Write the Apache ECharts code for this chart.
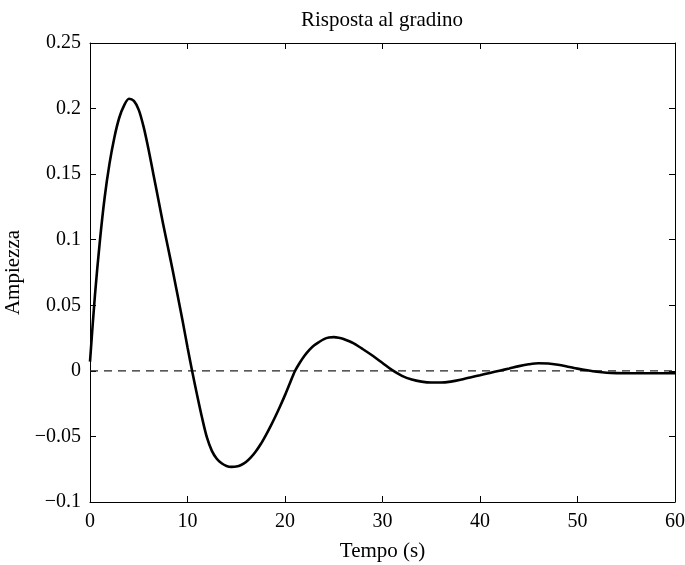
<!DOCTYPE html>
<html>
<head>
<meta charset="utf-8">
<script src="https://cdn.jsdelivr.net/npm/echarts@6/dist/echarts.min.js"></script>
<style>
  html, body { margin: 0; padding: 0; background: #fff; }
  #chart { width: 685px; height: 565px; }
</style>
</head>
<body>
<div id="chart"></div>
<script>
// step response
const tempo = [0, 0.5, 1, 1.5, 2, 2.5, 3, 3.5, 4, 4.5, 5, 5.5, 6, 6.5, 7, 7.5, 8, 8.5, 9, 9.5,
  10, 10.5, 11, 11.5, 12, 12.5, 13, 13.5, 14, 14.5, 15, 15.5, 16, 16.5, 17, 17.5, 18, 18.5, 19, 19.5,
  20, 20.5, 21, 21.5, 22, 22.5, 23, 23.5, 24, 24.5, 25, 25.5, 26, 27, 28, 29, 30, 31, 32, 33, 34, 35, 36, 37, 38, 39,
  40, 41, 42, 43, 44, 45, 46, 47, 48, 49, 50, 51, 52, 53, 54, 55, 56, 58, 60]
const ampiezza = [0.007, 0.057, 0.098, 0.132, 0.158, 0.178, 0.193, 0.2025, 0.2075, 0.2058, 0.199, 0.186, 0.169, 0.150, 0.131, 0.112, 0.094, 0.076, 0.057, 0.038,
  0.018, -0.001, -0.019, -0.036, -0.051, -0.061, -0.067, -0.0705, -0.0725, -0.0732, -0.073, -0.0718, -0.0695, -0.066, -0.0615, -0.056, -0.0495, -0.0425, -0.035, -0.027,
  -0.0185, -0.0095, -0.0005, 0.006, 0.0115, 0.016, 0.0195, 0.022, 0.0242, 0.0254, 0.0257, 0.0253, 0.0243, 0.0212, 0.0165, 0.0115, 0.006, 0.0005, -0.0038, -0.0066, -0.0082, -0.0089, -0.0089, -0.0082, -0.0068, -0.005,
  -0.0033, -0.0016, 0.0001, 0.0018, 0.0036, 0.005, 0.0058, 0.0056, 0.0046, 0.0032, 0.0017, 0.0004, -0.0007, -0.0014, -0.0017, -0.0018, -0.0018, -0.0018, -0.0018]
const riferimento = [[0, 0], [60, 0]]

const font = 'Liberation Serif'
const fmt = v => String(+v.toFixed(2)).replace('-', '\u2212')

const chart = echarts.init(document.getElementById('chart'))

const axisCommon = {
  axisLine: { show: true, onZero: false, lineStyle: { color: '#000', width: 1 } },
  axisTick: { show: true, inside: true, length: 6, lineStyle: { color: '#000' } },
  splitLine: { show: false }
}

chart.setOption({
  animation: false,
  title: {
    text: 'Risposta al gradino',
    left: 377, top: 5, textAlign: 'center',
    textStyle: { fontFamily: font, fontSize: 21, fontWeight: 'normal', color: '#000' }
  },
  grid: { left: 90, right: 10, top: 43, bottom: 63, outerBoundsMode: 'none', containLabel: false },
  xAxis: [{
    type: 'value', min: 0, max: 60, interval: 10,
    name: 'Tempo (s)', nameLocation: 'middle', nameGap: 39,
    nameTextStyle: { fontFamily: font, fontSize: 21, color: '#000' },
    axisLabel: { fontFamily: font, fontSize: 20, color: '#000', margin: 10 },
    ...axisCommon
  }, {
    type: 'value', min: 0, max: 60, interval: 10, position: 'top',
    axisLabel: { show: false },
    ...axisCommon
  }],
  yAxis: [{
    type: 'value', min: -0.1, max: 0.25, interval: 0.05,
    name: 'Ampiezza', nameLocation: 'middle', nameGap: 55, nameRotate: 90,
    nameTextStyle: { fontFamily: font, fontSize: 21, color: '#000' },
    axisLabel: { fontFamily: font, fontSize: 20, color: '#000', margin: 9, formatter: fmt },
    ...axisCommon
  }, {
    type: 'value', min: -0.1, max: 0.25, interval: 0.05, position: 'right',
    axisLabel: { show: false },
    ...axisCommon
  }],
  series: [{
    type: 'line',
    data: riferimento,
    symbol: 'none',
    lineStyle: { color: '#222', width: 1.2, type: [8, 6] },
    z: 1
  }, {
    type: 'line',
    data: tempo.map((t, i) => [t, ampiezza[i]]),
    smooth: 0.3,
    symbol: 'none',
    lineStyle: { color: '#000', width: 2.6 },
    z: 2
  }]
})
</script>
</body>
</html>
